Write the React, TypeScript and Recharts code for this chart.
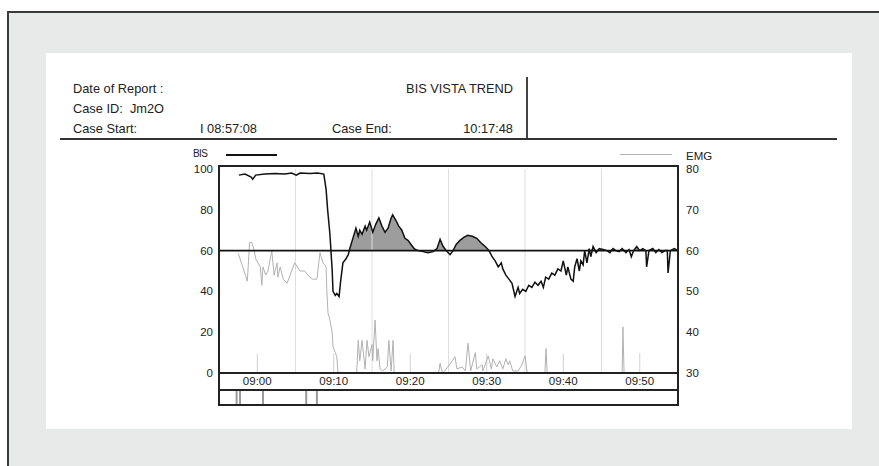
import React from 'react';
import { ComposedChart, Line, Area, XAxis, YAxis, ReferenceLine } from 'recharts';

const FONT = '"Liberation Sans", Arial, Helvetica, sans-serif';
const INK = '#222';

// Time values are minutes since midnight (537.6 = 08:57:36).
const bisTime = [
  537.6, 538.4, 539.2, 539.4, 539.8, 541.0, 542.3, 543.6, 544.5, 545.1, 545.6, 546.9, 547.9, 548.7,
  549.0, 549.2, 549.5, 549.8, 549.9, 550.2, 550.4, 550.7, 550.9, 551.2, 551.6, 551.9,
  552.1, 552.5, 552.9, 553.2, 553.4, 553.7, 554.1, 554.3, 554.7, 555.1, 555.5, 555.9, 556.3, 556.7,
  557.1, 557.5, 557.7, 558.1, 558.5, 558.9, 559.3, 559.7, 560.1, 560.5, 561.0, 561.7, 562.3,
  563.0, 563.5, 563.9, 564.3, 564.7, 565.2, 565.6, 566.0, 566.5, 567.0, 567.5, 568.1, 568.7, 569.2, 569.8,
  570.3, 570.7, 571.1, 571.5, 571.9, 572.1, 572.5, 572.9, 573.3, 573.7, 574.1, 574.3, 574.7, 575.1,
  575.5, 575.9, 576.3, 576.7, 577.1, 577.4, 577.7, 578.1, 578.5, 578.9, 579.3, 579.7, 580.0, 580.4,
  580.6, 581.0, 581.3, 581.5, 581.8, 582.1, 582.3, 582.6, 582.8, 583.1, 583.4, 583.6, 583.9, 584.3,
  584.7, 585.2, 585.7, 586.1, 586.5, 586.9, 587.3, 587.7, 588.2, 588.6, 588.9, 589.2, 589.6, 590.0,
  590.4, 590.8, 590.9, 591.2, 591.7, 592.1, 592.5, 592.9, 593.3, 593.6, 593.7, 594.0, 594.5, 595.0,
];
const bisValue = [
  97, 97.5, 96, 95, 97, 97.5, 97.8, 97.5, 98, 97, 98, 97.8, 98, 97.5,
  90, 80, 68, 50, 40, 38, 39, 37.5, 45, 54, 56, 58,
  61, 66, 71, 67, 70, 68, 72, 70, 74, 69, 73, 76, 72, 69,
  71, 76, 77.5, 75, 72, 70, 66, 65, 63, 61, 60, 59.5, 59,
  59.5, 61, 65.5, 62, 60, 58, 60, 63, 65, 66.5, 67.5, 67, 66, 64, 62,
  60, 57, 55, 52, 54, 51, 48, 46, 44, 37.5, 42, 39, 41, 40,
  43, 42, 44.5, 43, 45, 42, 47, 46, 49, 48, 51, 50, 55, 48,
  52, 46, 45, 52, 56, 50, 55, 53, 60, 54, 61, 57, 62, 59,
  61, 60.5, 60, 59, 61, 60, 59.5, 61, 59, 60.5, 57, 60, 62, 60,
  61, 60, 52, 60, 61, 59, 60.5, 59, 60, 60, 49, 60, 61, 60,
];

const emgTime = [
  537.5, 537.75, 538.1, 538.7, 539.0, 539.3, 539.6, 539.8, 540.4, 540.6, 540.75, 541.1, 541.4, 541.9,
  542.2, 542.6, 542.7, 543.0, 543.4, 543.9, 544.5, 544.9, 545.6, 546.2, 546.6, 547.2, 547.8, 548.2,
  548.6, 549.0, 549.1, 549.25, 549.5, 549.8, 549.9, 550.2, 550.4, 550.55,
  553.0, 553.2, 553.4, 553.7, 554.1, 554.35, 554.6, 555.0, 555.1, 555.4, 555.65, 555.8, 556.05, 556.4,
  557.0, 557.2, 557.5, 557.75, 557.9,
  563.7, 563.9, 564.2, 564.5, 565.5, 565.85, 566.1, 566.8, 567.2, 567.55, 567.9, 568.5, 568.7, 569.4,
  569.5, 570.2, 570.6, 570.8, 571.3, 571.7, 572.1, 572.5, 572.8, 573.0, 573.4, 574.1, 574.6, 575.0,
  575.3, 577.6, 577.75, 577.9, 587.7, 587.8, 587.95, 595.0,
];
const emgValue = [
  59.4, 58, 56, 52.5, 62, 62, 60, 58, 56, 51.5, 56, 54, 55, 60,
  54, 57, 53.5, 56, 53, 52, 55, 57, 55, 55, 54, 53, 53, 59.5,
  57, 56, 50, 44.7, 43, 39.8, 36.4, 35, 34, 30.2,
  30, 38, 33, 38, 31, 38, 34, 37, 33, 43, 33, 36, 31, 30.5,
  31.5, 38, 30.5, 38, 30,
  30, 32.4, 30, 30.5, 33, 34, 31, 31.5, 30.5, 37.3, 30.5, 35, 31, 32,
  30.5, 34.2, 31, 33.5, 31.5, 33, 31, 33.5, 32, 33, 30.5, 30.5, 32, 34.2,
  30, 30, 36, 30, 30, 41.3, 30, 30,
];

const timeDomain = [535, 595];
const timeTicks = [540, 550, 560, 570, 580, 590];
const gridTimes = [545, 555, 565, 575, 585];
const bisTicks = [0, 20, 40, 60, 80, 100];
const emgTicks = [30, 40, 50, 60, 70, 80];
const eventTimes = [537.3, 537.75, 540.75, 546.4, 547.8];
const THRESHOLD = 60;
// shading above the threshold only starts once the patient is induced
const INDUCED_AT = 550.0;

const bisData = bisTime.map((t, i) => ({
  t,
  bis: bisValue[i],
  above: t >= INDUCED_AT ? Math.max(bisValue[i], THRESHOLD) : null,
}));
const emgData = emgTime.map((t, i) => ({ t, emg: emgValue[i] }));

const pad = (n: number) => String(n).padStart(2, '0');
const clock = (m: number) => `${pad(Math.floor(m / 60))}:${pad(Math.round(m % 60))}`;

const tickStyle = { fill: INK, fontSize: 11.5, fontFamily: FONT };

const abs = (style: React.CSSProperties): React.CSSProperties => ({ position: 'absolute', ...style });
const text = (style: React.CSSProperties): React.CSSProperties =>
  abs({ fontFamily: FONT, fontSize: 12.8, lineHeight: '16px', color: INK, whiteSpace: 'nowrap', ...style });

export default function App() {
  return (
    <div style={{ position: 'fixed', left: 0, top: 0, width: 879, height: 466, background: '#fff', overflow: 'hidden' }}>
      {/* grey mount with its dark top / left edge */}
      <div style={abs({ left: 7, top: 11, width: 890, height: 480, background: '#e8eae9', borderTop: '2px solid #3a3a3a', borderLeft: '2px solid #3a3a3a' })} />
      {/* report sheet */}
      <div style={abs({ left: 46, top: 53, width: 806, height: 376, background: '#fff' })} />

      {/* report header */}
      <div style={text({ left: 73, top: 80.5 })}>Date of Report :</div>
      <div style={text({ left: 73, top: 100.5 })}>Case ID:&nbsp; Jm2O</div>
      <div style={text({ left: 73, top: 120.5 })}>Case Start:</div>
      <div style={text({ left: 200, top: 120.5 })}>I 08:57:08</div>
      <div style={text({ left: 332, top: 120.5 })}>Case End:</div>
      <div style={text({ right: 366, top: 120.5 })}>10:17:48</div>
      <div style={text({ right: 366, top: 80.5 })}>BIS VISTA TREND</div>
      <div style={abs({ left: 526, top: 77, width: 1.5, height: 62, background: '#444' })} />
      <div style={abs({ left: 60, top: 138, width: 777, height: 1.7, background: '#333' })} />

      <ComposedChart
        width={879}
        height={466}
        margin={{ top: 169, right: 0, bottom: 63, left: 0 }}
        style={{ position: 'absolute', left: 0, top: 0 }}
      >
        <XAxis
          type="number"
          dataKey="t"
          domain={timeDomain}
          ticks={timeTicks}
          tickFormatter={clock}
          allowDataOverflow
          axisLine={false}
          tickLine={false}
          tickSize={0}
          tickMargin={4}
          height={30}
          tick={tickStyle}
        />
        <YAxis
          yAxisId="bis"
          orientation="left"
          domain={[0, 100]}
          ticks={bisTicks}
          width={219}
          axisLine={false}
          tickLine={false}
          tickMargin={0}
          tick={tickStyle}
        />
        <YAxis
          yAxisId="emg"
          orientation="right"
          domain={[30, 80]}
          ticks={emgTicks}
          width={201}
          axisLine={false}
          tickLine={false}
          tick={tickStyle}
        />

        {gridTimes.map((t) => (
          <ReferenceLine key={`g${t}`} yAxisId="bis" x={t} stroke="#dedede" strokeWidth={1} />
        ))}
        {timeTicks.map((t) => (
          <ReferenceLine
            key={`m${t}`}
            yAxisId="bis"
            segment={[{ x: t, y: 0 }, { x: t, y: 9.5 }]}
            stroke="#d0d0d0"
            strokeWidth={1}
          />
        ))}
        {eventTimes.map((t) => (
          <ReferenceLine
            key={`e${t}`}
            yAxisId="bis"
            segment={[{ x: t, y: -8.8 }, { x: t, y: -15.3 }]}
            stroke="#9a9a9a"
            strokeWidth={2}
            ifOverflow="visible"
          />
        ))}

        <Area
          yAxisId="bis"
          data={bisData}
          dataKey="above"
          type="linear"
          baseValue={THRESHOLD}
          stroke="none"
          fill="#9d9d9d"
          fillOpacity={1}
          isAnimationActive={false}
        />
        <Line
          yAxisId="emg"
          data={emgData}
          dataKey="emg"
          type="linear"
          stroke="#b2b2b2"
          strokeWidth={1}
          dot={false}
          isAnimationActive={false}
        />
        <ReferenceLine yAxisId="bis" y={THRESHOLD} stroke="#111" strokeWidth={1.7} />
        <Line
          yAxisId="bis"
          data={bisData}
          dataKey="bis"
          type="linear"
          stroke="#111"
          strokeWidth={1.5}
          dot={false}
          isAnimationActive={false}
        />
      </ComposedChart>

      {/* plot frame, time band and event strip */}
      <div style={abs({ left: 218, top: 165, width: 461, height: 241, border: '2px solid #222', boxSizing: 'border-box' })} />
      <div style={abs({ left: 218, top: 372, width: 461, height: 2, background: '#222' })} />
      <div style={abs({ left: 218, top: 389, width: 461, height: 2, background: '#222' })} />

      {/* series key */}
      <div style={text({ left: 193, top: 147, fontSize: 10, letterSpacing: -0.6, lineHeight: '14px' })}>BIS</div>
      <div style={abs({ left: 226, top: 154, width: 51, height: 1.5, background: '#111' })} />
      <div style={abs({ left: 620, top: 154, width: 52, height: 1, background: '#b2b2b2' })} />
      <div style={text({ left: 686, top: 149, fontSize: 11.5, lineHeight: '14px' })}>EMG</div>
    </div>
  );
}
